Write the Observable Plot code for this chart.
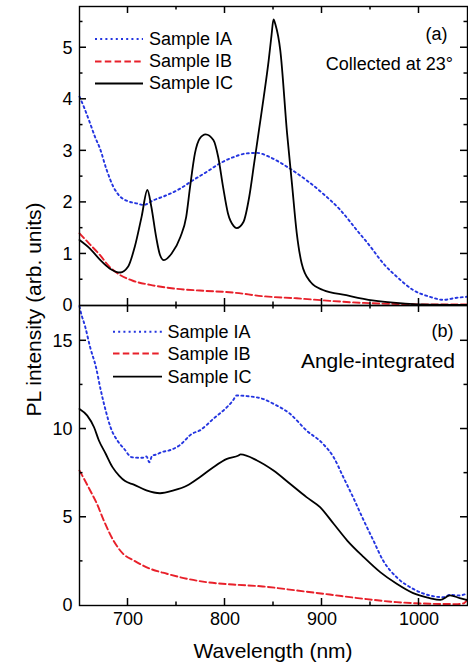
<!DOCTYPE html>
<html>
<head>
<meta charset="utf-8">
<script src="https://cdn.jsdelivr.net/npm/d3@7"></script>
<script src="https://cdn.jsdelivr.net/npm/@observablehq/plot@0.6"></script>
<style>
  html, body { margin: 0; padding: 0; background: white; }
  #chart { position: relative; width: 468px; height: 666px; font-family: "Liberation Sans", Arial, Helvetica, sans-serif; }
  #chart svg { overflow: visible; background: transparent; display: block; }
  #overlay { position: absolute; left: 0; top: 0; pointer-events: none; }
</style>
</head>
<body>
<div id="chart"></div>
<script>
// ---------- Data ----------
const seriesNames = ["Sample IA", "Sample IB", "Sample IC"];

// Panel (a): collected at 23°
const wlA_top = [650,655,661,666,671,678,685,692,699,709,716,726,740,754,767,781,795,809,822,833,846,864,884,901,919,936,950,963,977,994,1011,1025,1039,1050];
const valA_top = [4.05,3.83,3.53,3.27,3.05,2.63,2.30,2.11,2.03,1.98,1.95,2.04,2.14,2.27,2.43,2.59,2.76,2.88,2.95,2.96,2.88,2.69,2.43,2.17,1.85,1.46,1.14,0.82,0.56,0.30,0.17,0.11,0.15,0.17];

const wlB_top = [650,660,671,681,692,705,723,747,774,809,839,874,908,943,977,1011,1050];
const valB_top = [1.40,1.20,0.98,0.75,0.59,0.48,0.40,0.33,0.29,0.25,0.18,0.14,0.09,0.05,0.03,0.02,0.02];

const wlC_top = [650,661,671,681,692,700,707,714,720,724,729,733,737,745,754,760,764,769,774,780,788,793,798,803,809,812,819,825,830,835,840,845,848,850,852,857,864,869,874,879,888,901,925,952,983,1000,1050];
const valC_top = [1.27,1.10,0.89,0.72,0.64,0.75,1.14,1.72,2.24,1.92,1.33,0.98,0.88,1.01,1.33,1.72,2.30,2.95,3.24,3.32,3.21,2.88,2.30,1.79,1.54,1.50,1.62,2.11,2.75,3.40,4.05,4.75,5.25,5.55,5.45,4.95,3.34,2.37,1.40,0.82,0.46,0.30,0.20,0.10,0.04,0.02,0.01];

// Panel (b): angle-integrated
const wlA_bot = [650,651,656,661,667,672,677,682,689,696,704,715,719,722,725,729,735,742,753,766,774,788,802,808,812,825,839,850,867,884,901,912,922,932,943,953,963,977,994,1011,1025,1032,1042,1050];
const valA_bot = [16.95,16.7,15.77,14.63,13.5,12.18,11.05,10.1,9.35,8.88,8.4,8.37,8.45,8.12,8.5,8.55,8.7,8.78,9.07,9.73,9.92,10.58,11.24,11.6,11.9,11.85,11.71,11.43,10.86,9.92,9.16,8.4,7.27,6.14,4.82,3.68,2.55,1.6,0.94,0.57,0.47,0.6,0.57,0.7];

const wlB_bot = [650,661,668,675,685,695,706,723,740,761,781,808,839,874,908,943,977,1011,1040,1046,1050];
const valB_bot = [7.65,6.52,5.76,4.82,3.68,2.93,2.55,2.08,1.80,1.51,1.32,1.19,1.08,0.85,0.62,0.38,0.19,0.10,0.08,0.12,0.35];

const wlC_bot = [650,658,665,670,677,684,691,697,706,719,733,747,761,774,788,802,814,816,833,850,867,884,898,912,926,943,960,977,994,1011,1022,1032,1042,1050];
const valC_bot = [11.14,10.76,10.1,9.35,8.6,7.84,7.35,7.05,6.85,6.52,6.36,6.52,6.8,7.27,7.84,8.31,8.5,8.56,8.22,7.65,6.9,6.14,5.57,4.63,3.68,2.74,1.89,1.23,0.70,0.42,0.32,0.57,0.42,0.3];

// Tick values
const xLabelTicks = [700, 800, 900, 1000];
const xMajorTicks = [700, 800, 900, 1000];
const xMinorTicks = [750, 850, 950];
const yTopLabels = [0, 1, 2, 3, 4, 5];
const yTopMajor = [1, 2, 3, 4, 5];
const yTopMinor = [0.5, 1.5, 2.5, 3.5, 4.5, 5.5];
const yBotLabels = [0, 5, 10, 15];
const yBotMajor = [5, 10, 15];
const yBotMinor = [2.5, 7.5, 12.5];

// ---------- Styles / layout ----------
const FONT = '"Liberation Sans", Arial, Helvetica, sans-serif';
const colors = {"Sample IA": "#2435e0", "Sample IB": "#e8202a", "Sample IC": "#000000"};
const dashes = {"Sample IA": "2,3.2", "Sample IB": "6.5,3.3", "Sample IC": null};
const widths = {"Sample IA": 1.9, "Sample IB": 1.9, "Sample IC": 1.8};
const W = 468, ML = 79, MR = 1;

const zip = (w, v) => w.map((d, i) => ({wl: d, v: v[i]}));
const fmt = d => String(d);

function lineMarks(tables) {
  return seriesNames.map((name, i) => Plot.line(tables[i], {
    x: "wl", y: "v",
    stroke: colors[name], strokeWidth: widths[name],
    strokeDasharray: dashes[name],
    curve: "monotone-x"
  }));
}

// inward ticks on all four sides, positioned with the plot's own scales
function tickMarks(yMajor, yMinor) {
  const LL = 7;
  return (index, scales, values, dims) => {
    const g = d3.create("svg:g").attr("stroke", "black").attr("stroke-width", 1.5);
    const x0 = dims.marginLeft, x1 = dims.width - dims.marginRight;
    const y0 = dims.marginTop, y1 = dims.height - dims.marginBottom;
    const add = (a, b, c, d) => g.append("line").attr("x1", a).attr("y1", b).attr("x2", c).attr("y2", d);
    for (const [vals, L] of [[yMajor, LL], [yMinor, LL / 2]]) {
      for (const v of vals) { const y = scales.y(v); add(x0, y, x0 + L, y); add(x1, y, x1 - L, y); }
    }
    for (const [vals, L] of [[xMajorTicks, LL], [xMinorTicks, LL / 2]]) {
      for (const v of vals) { const x = scales.x(v); add(x, y0, x, y0 + L); add(x, y1, x, y1 - L); }
    }
    return g.node();
  };
}

const baseStyle = {fontFamily: FONT, fontSize: "18px", color: "black"};

const topPlot = Plot.plot({
  width: W, height: 305,
  marginTop: 6, marginBottom: 0, marginLeft: ML, marginRight: MR,
  x: {domain: [650, 1050], axis: null},
  y: {domain: [0, 5.8]},
  style: baseStyle,
  marks: [
    ...lineMarks([zip(wlA_top, valA_top), zip(wlB_top, valB_top), zip(wlC_top, valC_top)]),
    tickMarks(yTopMajor, yTopMinor),
    Plot.axisY(yTopLabels, {anchor: "left", tickSize: 0, tickPadding: 7, fontSize: 18, tickFormat: fmt, label: null}),
    Plot.frame({stroke: "black", strokeWidth: 1.4})
  ]
});

const botPlot = Plot.plot({
  width: W, height: 361,
  marginTop: 0, marginBottom: 61, marginLeft: ML, marginRight: MR,
  x: {domain: [650, 1050]},
  y: {domain: [0, 17]},
  style: baseStyle,
  marks: [
    ...lineMarks([zip(wlA_bot, valA_bot), zip(wlB_bot, valB_bot), zip(wlC_bot, valC_bot)]),
    tickMarks(yBotMajor, yBotMinor),
    Plot.axisY(yBotLabels, {anchor: "left", tickSize: 0, tickPadding: 7, fontSize: 18, tickFormat: fmt, label: null}),
    Plot.axisX(xLabelTicks, {anchor: "bottom", tickSize: 0, tickPadding: 7, fontSize: 18, tickFormat: fmt, label: null}),
    Plot.frame({stroke: "black", strokeWidth: 1.4})
  ]
});

const chart = document.getElementById("chart");
chart.appendChild(topPlot);
chart.appendChild(botPlot);

// ---------- Overlay: legends, annotations, axis titles ----------
const ov = d3.select(chart).append("svg")
  .attr("id", "overlay")
  .attr("width", 468).attr("height", 666)
  .attr("font-family", FONT);

function legend(x1, x2, tx, lineYs, baseYs) {
  seriesNames.forEach((name, i) => {
    ov.append("line")
      .attr("x1", x1).attr("x2", x2).attr("y1", lineYs[i]).attr("y2", lineYs[i])
      .attr("stroke", colors[name]).attr("stroke-width", widths[name])
      .attr("stroke-dasharray", dashes[name]);
    ov.append("text").attr("x", tx).attr("y", baseYs[i])
      .attr("font-size", 18).attr("fill", "black").text(name);
  });
}
legend(95, 143, 149, [39, 61.5, 83.5], [45, 67, 89.3]);
legend(113, 162, 167.5, [331.7, 353.5, 376.7], [337.5, 360, 382.7]);

ov.append("text").attr("x", 447.5).attr("y", 40).attr("text-anchor", "end").attr("font-size", 18).text("(a)");
ov.append("text").attr("x", 453).attr("y", 70).attr("text-anchor", "end").attr("font-size", 18).text("Collected at 23°");
ov.append("text").attr("x", 453.5).attr("y", 337).attr("text-anchor", "end").attr("font-size", 18).text("(b)");
ov.append("text").attr("x", 455).attr("y", 368).attr("text-anchor", "end").attr("font-size", 21).text("Angle-integrated");

ov.append("text").attr("x", 273).attr("y", 658).attr("text-anchor", "middle").attr("font-size", 21).text("Wavelength (nm)");
ov.append("text").attr("transform", "translate(41,309.5) rotate(-90)").attr("text-anchor", "middle").attr("font-size", 21).text("PL intensity (arb. units)");
</script>
</body>
</html>
